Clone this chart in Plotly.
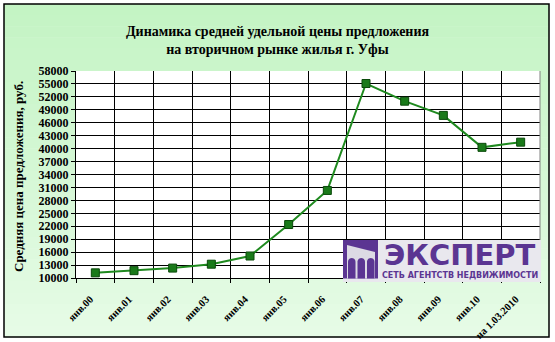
import math
import plotly.graph_objects as go

# ---- data ----
categories = ["янв.00", "янв.01", "янв.02", "янв.03", "янв.04", "янв.05",
              "янв.06", "янв.07", "янв.08", "янв.09", "янв.10", "на 1.03.2010"]
prices = [11200, 11700, 12300, 13200, 15100, 22400,
          30300, 55100, 51000, 47700, 40300, 41500]
y_min, y_max, y_step = 10000, 58000, 3000
title_lines = ["Динамика средней удельной цены предложения",
               "на вторичном рынке жилья г. Уфы"]
y_title = "Средняя цена предложения, руб."
logo_word = "ЭКСПЕРТ"
logo_sub = "СЕТЬ АГЕНТСТВ НЕДВИЖИМОСТИ"

# ---- geometry ----
WIDTH, HEIGHT = 555, 342
ML, MR, MT, MB = 76, 15, 71, 64
PW = WIDTH - ML - MR
PH = HEIGHT - MT - MB


def px(x):
    return (x - ML) / PW


def py(y):
    return (HEIGHT - MB - y) / PH


SERIF = "Liberation Serif, Times New Roman, serif"
PURPLE = "#5b3592"

fig = go.Figure()
fig.add_trace(go.Scatter(
    x=categories, y=prices, mode="lines+markers",
    line=dict(color="#1f8a1f", width=2),
    marker=dict(symbol="square", size=8, color="#1a7a1a",
                line=dict(color="#0b4a0b", width=1)),
    hoverinfo="x+y", showlegend=False,
))

shapes = []
# gradient background inside frame
fx0, fx1, fy0, fy1 = 4, 549, 4, 337
n = 30
c0 = (196, 244, 196)
c1 = (230, 251, 230)
for i in range(n):
    t = i / (n - 1)
    col = tuple(round(c0[k] + (c1[k] - c0[k]) * t) for k in range(3))
    ya = fy0 + (fy1 - fy0) * i / n
    yb = fy0 + (fy1 - fy0) * (i + 1) / n + 0.5
    shapes.append(dict(type="rect", xref="paper", yref="paper", layer="below",
                       x0=px(fx0), x1=px(fx1), y0=py(ya), y1=py(yb),
                       line=dict(width=0), fillcolor="rgb(%d,%d,%d)" % col))
# white plot area
shapes.append(dict(type="rect", xref="paper", yref="paper", layer="below",
                   x0=0, x1=1, y0=0, y1=1, line=dict(width=0), fillcolor="white"))
# outer frame
shapes.append(dict(type="rect", xref="paper", yref="paper", layer="above",
                   x0=px(fx0), x1=px(fx1), y0=py(fy0), y1=py(fy1),
                   line=dict(color="black", width=1.5), fillcolor="rgba(0,0,0,0)"))
# right plot border (gray)
shapes.append(dict(type="line", xref="paper", yref="paper", layer="above",
                   x0=1, x1=1, y0=0, y1=1, line=dict(color="#808080", width=1)))

# logo background
shapes.append(dict(type="rect", xref="paper", yref="paper", layer="above",
                   x0=px(343), x1=px(541), y0=py(240), y1=py(282),
                   line=dict(width=0), fillcolor="#e9e8ee"))
# logo icon: purple square
shapes.append(dict(type="rect", xref="paper", yref="paper", layer="above",
                   x0=px(343), x1=px(378), y0=py(240), y1=py(278.5),
                   line=dict(width=0), fillcolor=PURPLE))


def path(points):
    return "M " + " L ".join("%f,%f" % (px(a), py(b)) for a, b in points) + " Z"


# light slanted inner area
shapes.append(dict(type="path", xref="paper", yref="paper", layer="above",
                   path=path([(347, 245), (375, 252), (375, 278.5), (347, 278.5)]),
                   line=dict(width=0), fillcolor="#dcdae4"))
# three arches
for ax0 in (348, 357.5, 367):
    w = 7.5
    top = 258
    r = w / 2
    pts = [(ax0, 278.5), (ax0, top + r)]
    for k in range(1, 12):
        ang = math.pi - math.pi * k / 12
        pts.append((ax0 + r + r * math.cos(ang), top + r - r * math.sin(ang)))
    pts += [(ax0 + w, top + r), (ax0 + w, 278.5)]
    shapes.append(dict(type="path", xref="paper", yref="paper", layer="above",
                       path=path(pts), line=dict(width=0), fillcolor=PURPLE))

annotations = [
    dict(text="<b>" + y_title + "</b>", xref="paper", yref="paper",
         x=px(18), y=py(177), textangle=-90, showarrow=False,
         font=dict(family=SERIF, size=13, color="black"),
         xanchor="center", yanchor="middle"),
    dict(text="<b>" + logo_word + "</b>", xref="paper", yref="paper",
         x=px(460), y=py(255), showarrow=False,
         font=dict(family="DejaVu Sans", size=29, color=PURPLE),
         xanchor="center", yanchor="middle"),
    dict(text="<b>" + logo_sub + "</b>", xref="paper", yref="paper",
         x=px(460), y=py(275.5), showarrow=False,
         font=dict(family="DejaVu Sans", size=8, color=PURPLE),
         xanchor="center", yanchor="middle"),
]

fig.update_layout(
    width=WIDTH, height=HEIGHT, autosize=False,
    margin=dict(l=ML, r=MR, t=MT, b=MB, pad=0),
    paper_bgcolor="white", plot_bgcolor="rgba(0,0,0,0)",
    title=dict(text="<b>" + title_lines[0] + "<br>" + title_lines[1] + "</b>",
               x=0.5, xref="container", xanchor="center",
               y=1 - 35.5 / HEIGHT, yref="container", yanchor="middle",
               font=dict(family=SERIF, size=14, color="black")),
    shapes=shapes, annotations=annotations,
    xaxis=dict(type="category", range=[-0.5, len(categories) - 0.5],
               tickson="boundaries", showgrid=True, gridcolor="black", gridwidth=1,
               showline=True, linecolor="black", linewidth=1,
               ticks="outside", ticklen=4, tickcolor="black",
               tickangle=-45, automargin=False, fixedrange=True,
               ticklabelstandoff=10, ticklabelshift=-5,
               tickfont=dict(family=SERIF, size=10.5, color="black", weight="bold")),
    yaxis=dict(range=[y_min, y_max], dtick=y_step, tick0=y_min, tickformat="d",
               showgrid=True, gridcolor="black", gridwidth=1,
               showline=True, linecolor="black", linewidth=1,
               ticks="outside", ticklen=4, tickcolor="black",
               zeroline=False, automargin=False, fixedrange=True,
               tickfont=dict(family=SERIF, size=12, color="black", weight="bold")),
)

fig.write_html("out.html")
